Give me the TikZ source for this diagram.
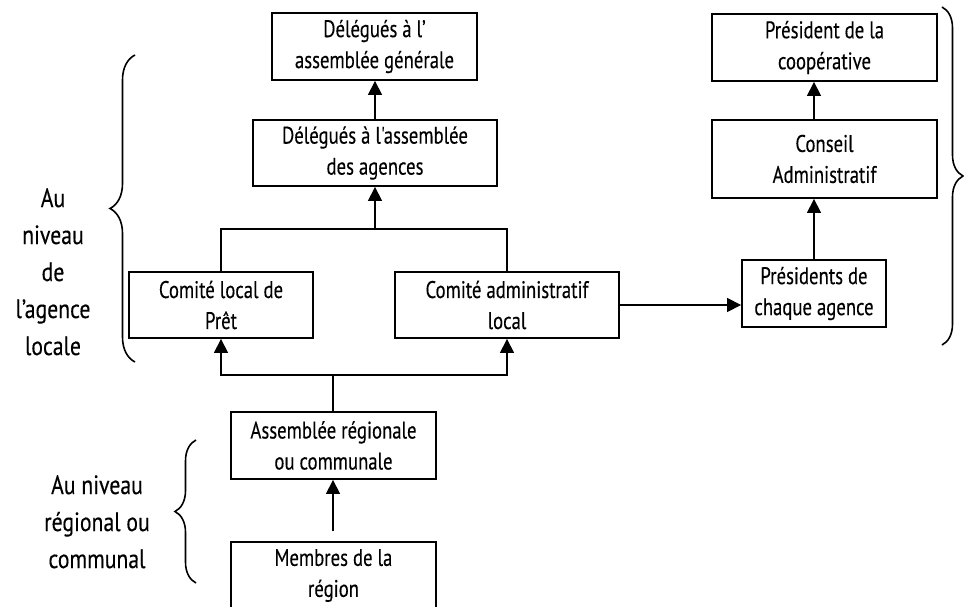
\documentclass[tikz,border=0pt]{standalone}
\usepackage{fontspec}
\newfontfamily\myfont[FakeStretch=0.78,FakeBold=0.25]{PT Sans}
\newfontfamily\mylblfont[FakeStretch=0.82,FakeBold=0.25]{PT Sans}
\usetikzlibrary{arrows.meta,decorations.pathreplacing,calc}
\begin{document}
\begin{tikzpicture}[x=1pt,y=-1pt,
  box/.style={draw, line width=1.9pt, inner sep=0pt, align=center,
    font=\myfont\fontsize{24}{31}\selectfont},
  conn/.style={line width=1.6pt},
  arr/.style={line width=1.6pt, -{Triangle[width=14pt,length=14pt]}},
  lbl/.style={align=center, inner sep=0pt, anchor=north,
    font=\mylblfont\fontsize{26.5}{37}\selectfont},
  brc/.style={decorate, decoration={brace, amplitude=#1}, line width=1.6pt}]
\useasboundingbox (0,0) rectangle (964,607);
\clip (0,0) rectangle (964,607);

\node[box, minimum width=205pt, minimum height=67pt] (b1) at (374.5,46.5) {Délégués à l’\\assemblée générale};
\node[box, minimum width=244pt, minimum height=66pt] (b2) at (375,153) {Délégués à l'assemblée\\des agences};
\node[box, minimum width=184pt, minimum height=66pt] (b3) at (221,305) {Comité local de\\Prêt};
\node[box, minimum width=224pt, minimum height=66pt] (b4) at (507,305) {Comité administratif\\local};
\node[box, minimum width=144pt, minimum height=67pt] (b5) at (814,293.5) {Présidents de\\chaque agence};
\node[box, minimum width=225pt, minimum height=78pt] (b6) at (824.5,159) {Conseil\\Administratif};
\node[box, minimum width=225pt, minimum height=67pt] (b7) at (824.5,47.5) {Président de la\\coopérative};
\node[box, minimum width=205pt, minimum height=67pt] (b8) at (333.5,445.5) {Assemblée régionale\\ou communale};
\node[box, minimum width=205pt, minimum height=67pt] (b9) at (333.5,575.5) {Membres de la\\région};

\coordinate (jt) at (375,229);
\coordinate (jb) at (333,375);
\coordinate (mb) at (333,531);

\draw[arr] (b2.north) -- (b2.north |- b1.south);
\draw[conn] (b3.north) |- (jt) -| (b4.north);
\draw[arr] (jt) -- (b2.south);
\draw[conn] (jb |- b8.north) -- (jb);
\draw[arr] (jb) -| (b3.south);
\draw[arr] (jb) -| (b4.south);
\draw[arr] (mb) -- (mb |- b8.south);
\draw[arr] (b4.east) -- (b4.east -| b5.west);
\draw[arr] (b5.north) -- (b5.north |- b6.south);
\draw[arr] (b6.north -| b5.north) -- (b7.south -| b5.north);

\draw[brc=25pt] (135,362) -- (135,55);
\draw[brc=21pt] (942,7) -- (942,345);
\draw[brc=21pt] (196,583) -- (196,440);

\node[lbl] (l1) at (53,188) {Au\\niveau\\de\\l’agence\\locale};
\node[lbl] (l2) at (97,475) {Au niveau\\régional ou\\communal};
\end{tikzpicture}
\end{document}
